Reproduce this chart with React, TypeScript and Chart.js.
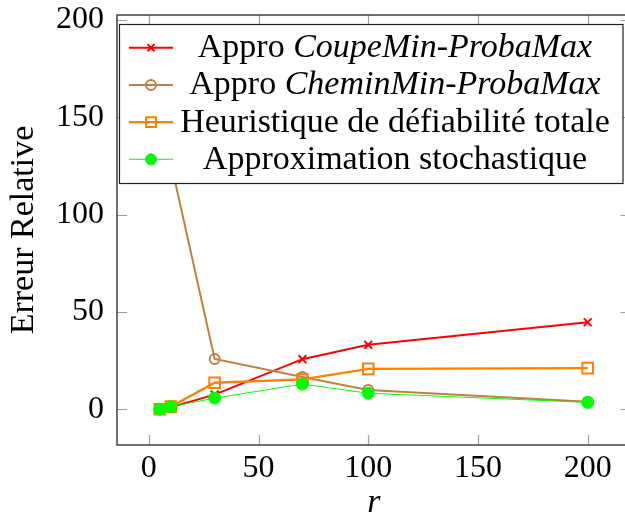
import { useEffect, useRef } from 'react';
import { Chart, registerables } from 'chart.js';
import { drawPoint } from 'chart.js/helpers';

Chart.register(...registerables);

// ---- data ----
const rValues = [5, 10, 30, 70, 100, 200];
const coupeMinProbaMax = [0, 1, 7.5, 25.7, 33.1, 44.7];
const cheminMinProbaMax = [184, 127, 25.8, 16.5, 9.9, 3.8];
const heuristiqueDefiabilite = [0, 1.3, 13.6, 15.3, 20.7, 21.1];
const approxStochastique = [0, 1.3, 5.7, 12.9, 8.2, 3.5];

const xTitle = 'r';
const yTitle = 'Erreur Relative';
const xTickStep = 50;
const yTickStep = 50;

const legendLabels = [
  [{ text: 'Appro ', italic: false }, { text: 'CoupeMin-ProbaMax', italic: true }],
  [{ text: 'Appro ', italic: false }, { text: 'CheminMin-ProbaMax', italic: true }],
  [{ text: 'Heuristique de défiabilité totale', italic: false }],
  [{ text: 'Approximation stochastique', italic: false }],
];

const FONT = '"Liberation Serif", "Times New Roman", Times, serif';
const TICK_FS = 32;
const TEXT_FS = 34;

const RED = 'rgb(255,0,0)';
const BROWN = 'rgb(191,128,64)';
const ORANGE = 'rgb(255,128,0)';
const GREEN = 'rgb(0,255,0)';

const toPts = (ys: number[]) => rValues.map((x, i) => ({ x, y: ys[i] }));

const frameAndTicks = {
  id: 'frameAndTicks',
  afterDatasetsDraw(chart: any) {
    const { ctx, chartArea: a } = chart;
    const xs = chart.scales.x;
    const ys = chart.scales.y;
    const L = 10;
    ctx.save();
    ctx.strokeStyle = '#a0a0a0';
    ctx.lineWidth = 1.2;
    ctx.beginPath();
    xs.ticks.forEach((t: any) => {
      const px = Math.round(xs.getPixelForValue(t.value)) + 0.5;
      ctx.moveTo(px, a.bottom);
      ctx.lineTo(px, a.bottom - L);
      ctx.moveTo(px, a.top);
      ctx.lineTo(px, a.top + L);
    });
    ys.ticks.forEach((t: any) => {
      const py = Math.round(ys.getPixelForValue(t.value)) + 0.5;
      ctx.moveTo(a.left, py);
      ctx.lineTo(a.left + L, py);
      ctx.moveTo(a.right, py);
      ctx.lineTo(a.right - L, py);
    });
    ctx.stroke();
    ctx.strokeStyle = '#333';
    ctx.lineWidth = 1.4;
    ctx.strokeRect(a.left, a.top, a.right - a.left, a.bottom - a.top);
    ctx.restore();
  },
};

const customLegend = {
  id: 'customLegend',
  afterDraw(chart: any) {
    const { ctx, chartArea: a } = chart;
    const left = a.left + 2;
    const right = a.right - 8;
    const top = a.top + 9;
    const h = 159;
    ctx.save();
    ctx.fillStyle = '#fff';
    ctx.fillRect(left, top, right - left, h);
    ctx.strokeStyle = '#222';
    ctx.lineWidth = 1.2;
    ctx.strokeRect(left + 0.5, top + 0.5, right - left, h);
    const textCenter = left + 276;
    chart.data.datasets.forEach((ds: any, i: number) => {
      const cy = top + 23.7 + i * 37.2;
      ctx.strokeStyle = ds.borderColor;
      ctx.lineWidth = ds.borderWidth;
      ctx.beginPath();
      ctx.moveTo(left + 10, cy);
      ctx.lineTo(left + 54, cy);
      ctx.stroke();
      ctx.fillStyle = ds.pointBackgroundColor;
      ctx.strokeStyle = ds.pointBorderColor;
      ctx.lineWidth = ds.pointBorderWidth;
      drawPoint(ctx, { pointStyle: ds.pointStyle, radius: ds.legendRadius, rotation: 0, borderWidth: ds.pointBorderWidth }, left + 32, cy);
      const segs = legendLabels[i];
      let total = 0;
      const widths = segs.map((s) => {
        ctx.font = `${s.italic ? 'italic ' : ''}${TEXT_FS}px ${FONT}`;
        const w = ctx.measureText(s.text).width;
        total += w;
        return w;
      });
      let x = textCenter - total / 2;
      ctx.fillStyle = '#000';
      ctx.textBaseline = 'alphabetic';
      ctx.textAlign = 'left';
      segs.forEach((s, j) => {
        ctx.font = `${s.italic ? 'italic ' : ''}${TEXT_FS}px ${FONT}`;
        ctx.fillText(s.text, x, cy + 9.5);
        x += widths[j];
      });
    });
    ctx.restore();
  },
};

export default function App() {
  const ref = useRef<HTMLCanvasElement>(null);
  useEffect(() => {
    if (!ref.current) return;
    const chart = new Chart(ref.current, {
      type: 'line',
      data: {
        datasets: [
          {
            label: 'Appro CoupeMin-ProbaMax',
            data: toPts(coupeMinProbaMax),
            borderColor: RED,
            borderWidth: 2,
            pointStyle: 'crossRot',
            pointRadius: 5.5,
            pointBorderColor: RED,
            pointBackgroundColor: RED,
            pointBorderWidth: 2,
            legendRadius: 5,
            order: 3,
          } as any,
          {
            label: 'Appro CheminMin-ProbaMax',
            data: toPts(cheminMinProbaMax),
            borderColor: BROWN,
            borderWidth: 2,
            pointStyle: 'circle',
            pointRadius: 5,
            pointBorderColor: BROWN,
            pointBackgroundColor: 'rgba(0,0,0,0)',
            pointBorderWidth: 2,
            legendRadius: 5,
            order: 2,
          } as any,
          {
            label: 'Heuristique de défiabilité totale',
            data: toPts(heuristiqueDefiabilite),
            borderColor: ORANGE,
            borderWidth: 2.3,
            pointStyle: 'rect',
            pointRadius: 7.5,
            pointBorderColor: ORANGE,
            pointBackgroundColor: 'rgba(0,0,0,0)',
            pointBorderWidth: 2,
            legendRadius: 7,
            order: 1,
          } as any,
          {
            label: 'Approximation stochastique',
            data: toPts(approxStochastique),
            borderColor: GREEN,
            borderWidth: 1,
            pointStyle: 'circle',
            pointRadius: 6,
            pointBorderColor: GREEN,
            pointBackgroundColor: GREEN,
            pointBorderWidth: 1,
            legendRadius: 5.5,
            order: 0,
          } as any,
        ],
      },
      options: {
        responsive: false,
        animation: false,
        devicePixelRatio: 1,
        layout: { padding: { top: 15, right: 8, left: 0, bottom: 0 } },
        plugins: { legend: { display: false }, tooltip: { enabled: false } },
        elements: { line: { tension: 0 } },
        scales: {
          x: {
            type: 'linear',
            min: -14.5,
            max: 219.5,
            grid: { display: false, drawTicks: false },
            border: { display: false },
            ticks: {
              stepSize: xTickStep,
              includeBounds: false,
              color: '#000',
              font: { family: FONT, size: TICK_FS },
              padding: 4,
              maxRotation: 0,
            },
            title: {
              display: true,
              text: xTitle,
              color: '#000',
              font: { family: FONT, size: TEXT_FS, style: 'italic' },
              padding: { top: 0, bottom: -10 },
            },
            afterFit: (s: any) => {
              s.height = 68;
              s.paddingLeft = 0;
              s.paddingRight = 0;
            },
          },
          y: {
            type: 'linear',
            min: -18.4,
            max: 202.6,
            grid: { display: false, drawTicks: false },
            border: { display: false },
            ticks: {
              stepSize: yTickStep,
              includeBounds: false,
              color: '#000',
              font: { family: FONT, size: TICK_FS },
              padding: 13,
            },
            title: {
              display: true,
              text: yTitle,
              color: '#000',
              font: { family: FONT, size: TEXT_FS },
              padding: { top: 4, bottom: 0 },
            },
            afterFit: (s: any) => {
              s.width = 117;
              s.paddingTop = 0;
              s.paddingBottom = 0;
            },
          },
        },
      },
      plugins: [frameAndTicks, customLegend],
    });
    return () => chart.destroy();
  }, []);
  return (
    <div style={{ position: 'fixed', left: 0, top: 0, width: 625, height: 513, overflow: 'hidden', background: '#fff' }}>
      <canvas ref={ref} width={640} height={513} style={{ display: 'block', width: 640, height: 513 }} />
    </div>
  );
}
